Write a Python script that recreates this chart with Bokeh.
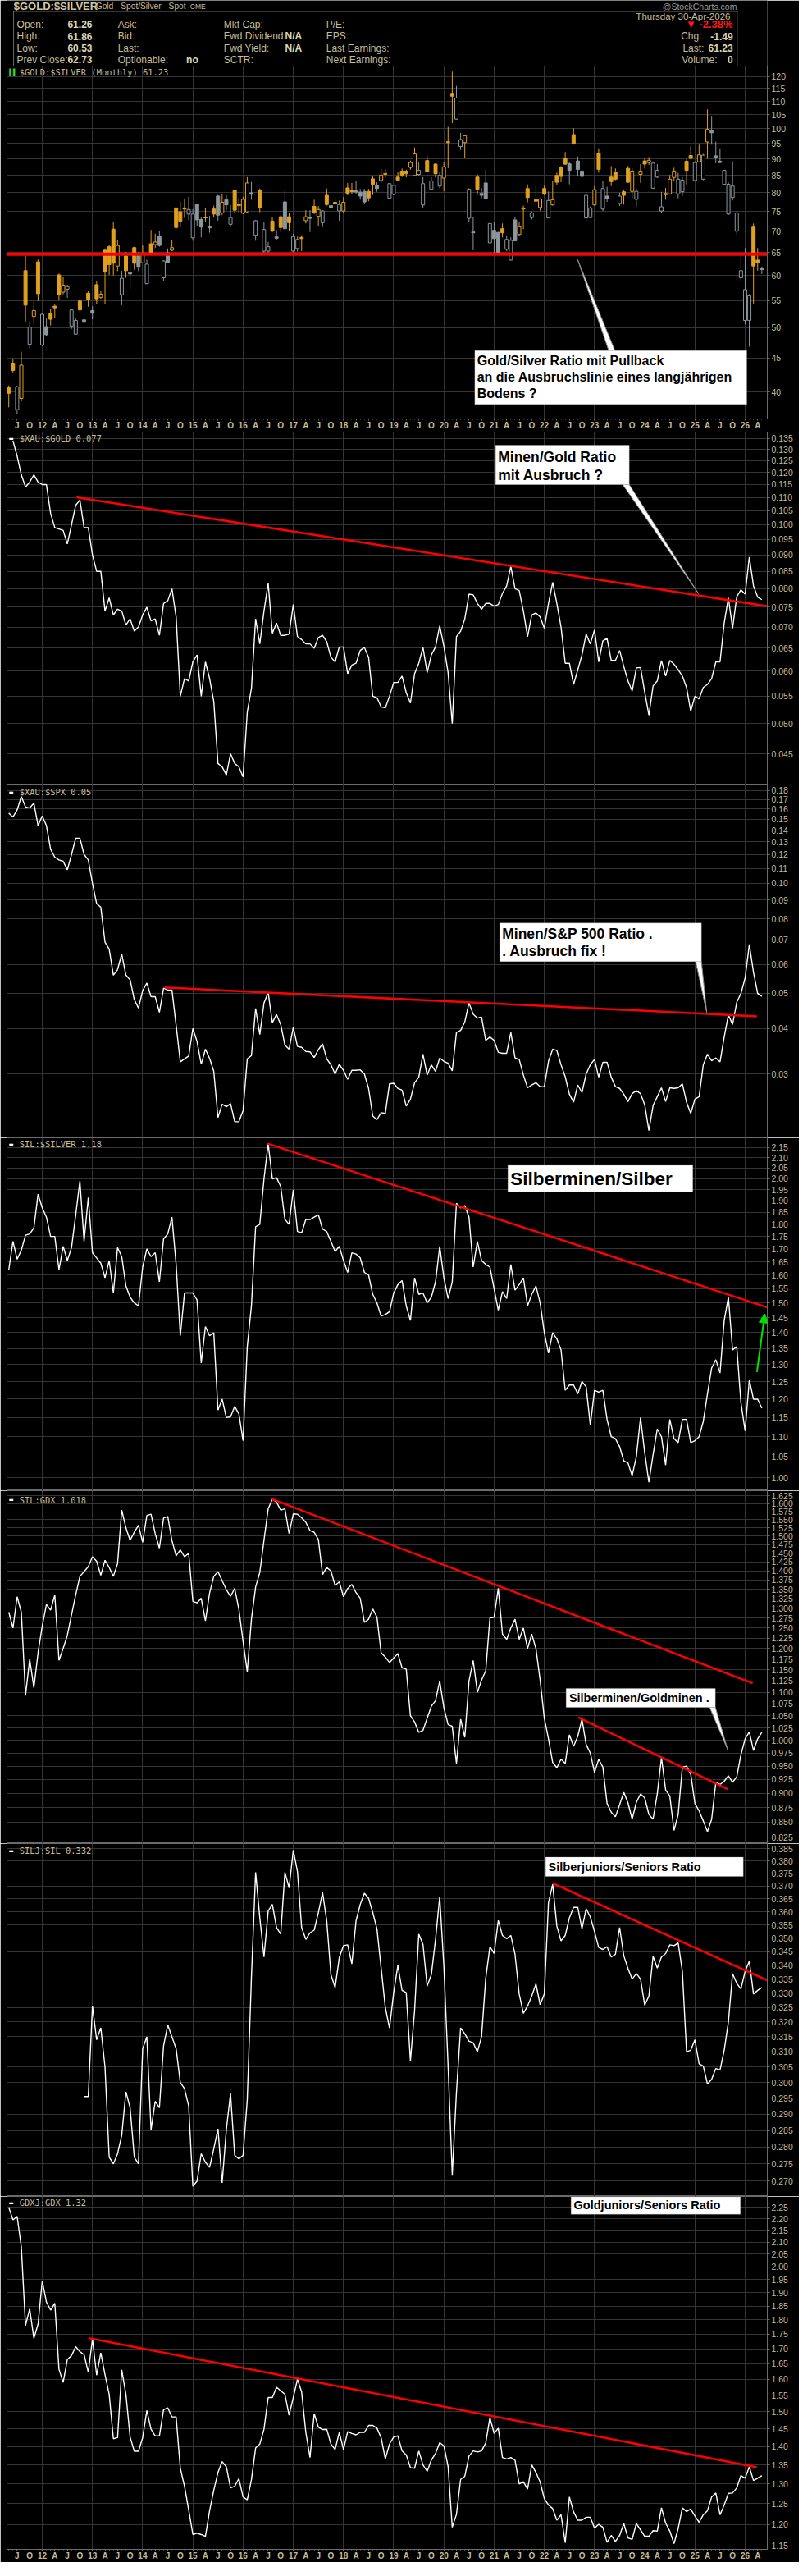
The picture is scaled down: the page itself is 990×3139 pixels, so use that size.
import numpy as np
import pandas as pd
from bokeh.plotting import figure
from bokeh.layouts import column
from bokeh.models import (Range1d, FixedTicker, PrintfTickFormatter, Label, BoxAnnotation,
                          Arrow, NormalHead, Grid, ColumnDataSource, Span)
from bokeh.embed import file_html
from bokeh.resources import INLINE

# ============================ DATA ============================
bar_months = pd.period_range("2011-04", "2026-04", freq="M")   # monthly bars

gs_open = [40.6, 44.2, 37.6, 39.1, 61.0, 47.2, 52.0, 62.9, 47.1, 50.2,
           52.5, 53.9, 60.1, 56.6, 57.2, 50.3, 48.9, 54.9, 51.4, 56.4,
           53.1, 58.1, 55.6, 65.5, 66.3, 70.5, 62.0, 56.1, 64.2, 60.6,
           66.1, 64.3, 62.7, 58.3, 67.0, 66.8, 68.7, 59.5, 64.9, 65.5,
           75.9, 74.9, 75.9, 74.3, 68.4, 76.9, 72.9, 73.5, 71.1, 75.6,
           79.1, 74.6, 78.1, 71.7, 80.7, 76.8, 74.5, 74.9, 80.0, 69.0,
           80.6, 65.3, 65.3, 72.5, 68.6, 73.6, 77.5, 73.6, 65.3, 65.9,
           68.5, 72.6, 73.3, 76.3, 73.7, 72.1, 79.3, 76.5, 77.4, 75.1,
           75.1, 81.4, 80.7, 80.6, 80.2, 80.4, 80.4, 84.0, 82.2, 83.5,
           85.3, 78.5, 79.6, 84.5, 86.3, 86.3, 87.4, 85.0, 85.3, 76.7,
           89.5, 81.0, 88.4, 81.9, 84.2, 95.6, 113.1, 103.4, 94.0, 95.3,
           73.2, 69.8, 84.5, 79.8, 82.8, 67.2, 70.2, 69.7, 70.6, 65.7,
           63.3, 72.8, 69.2, 75.9, 81.2, 73.4, 78.1, 76.0, 81.2, 73.3,
           76.7, 85.0, 87.4, 90.2, 88.5, 98.0, 89.4, 86.3, 73.3, 73.4,
           76.7, 91.8, 75.6, 79.1, 84.5, 85.9, 77.1, 80.3, 87.1, 80.4,
           78.2, 85.3, 89.4, 88.9, 81.3, 84.5, 75.1, 79.8, 79.7, 84.4,
           79.7, 80.3, 89.3, 91.1, 83.5, 89.1, 83.9, 95.5, 99.3, 91.0,
           89.3, 82.4, 74.3, 78.7, 70.0, 59.5, 51.3, 51.3, 71.0, 63.3,
           61.4]
gs_high = [40.9, 44.9, 40.9, 46.0, 64.2, 51.1, 54.9, 63.4, 52.6, 51.6,
           53.4, 54.2, 60.4, 59.6, 58.1, 53.3, 51.7, 55.6, 52.3, 56.8,
           53.9, 58.9, 56.9, 65.9, 66.8, 72.3, 67.8, 61.0, 65.1, 62.3,
           66.3, 65.1, 66.6, 63.4, 70.3, 69.4, 70.1, 63.2, 65.9, 67.8,
           76.0, 77.5, 78.3, 78.9, 75.6, 77.1, 73.6, 75.9, 73.8, 76.5,
           79.4, 79.8, 79.4, 76.7, 80.9, 78.5, 78.9, 84.5, 83.1, 72.7,
           81.2, 72.3, 67.4, 73.4, 70.3, 74.0, 80.9, 74.5, 69.4, 68.7,
           69.0, 75.3, 75.3, 78.1, 76.4, 75.3, 81.2, 78.1, 78.9, 77.9,
           78.8, 82.8, 82.8, 83.5, 81.1, 81.1, 81.1, 84.9, 83.0, 87.1,
           86.8, 82.7, 82.2, 85.9, 87.1, 86.7, 89.5, 93.7, 88.9, 84.5,
           91.1, 84.5, 88.7, 85.9, 89.1, 100.7, 122.0, 116.1, 98.6, 97.8,
           81.3, 73.5, 85.3, 81.3, 86.7, 72.0, 72.3, 69.8, 71.9, 69.0,
           68.5, 73.4, 72.2, 76.5, 82.4, 75.0, 82.2, 78.5, 82.0, 80.4,
           83.3, 85.8, 87.8, 92.2, 89.1, 100.2, 90.8, 86.5, 80.3, 76.2,
           81.9, 93.4, 83.5, 81.7, 87.8, 87.1, 80.0, 80.9, 87.8, 87.1,
           81.2, 88.4, 90.3, 90.6, 89.0, 88.4, 80.3, 81.4, 85.1, 87.3,
           85.8, 84.5, 89.9, 94.1, 89.3, 94.6, 91.6, 107.0, 104.6, 95.6,
           93.4, 86.7, 83.0, 89.3, 75.0, 64.4, 66.0, 56.2, 71.9, 66.0,
           61.9]
gs_low = [37.9, 42.8, 37.0, 38.7, 51.1, 46.5, 50.5, 54.9, 46.9, 48.6,
          50.4, 51.7, 55.1, 56.2, 55.5, 49.8, 48.8, 52.6, 49.8, 53.8,
          51.5, 54.3, 55.3, 54.3, 60.1, 60.0, 60.9, 54.1, 59.5, 57.2,
          61.2, 60.9, 62.6, 58.2, 64.7, 66.0, 66.3, 58.9, 62.6, 65.3,
          70.6, 70.9, 73.3, 72.7, 67.7, 71.2, 68.5, 72.3, 69.6, 73.6,
          72.6, 74.0, 75.3, 71.0, 74.5, 74.5, 74.3, 74.6, 78.1, 67.7,
          74.8, 64.8, 64.9, 69.8, 67.8, 69.8, 70.5, 70.0, 65.0, 65.2,
          65.3, 71.9, 69.8, 74.3, 71.2, 71.0, 76.5, 75.3, 76.8, 72.6,
          74.6, 79.3, 79.6, 79.6, 78.1, 76.9, 77.7, 79.4, 80.3, 83.0,
          84.3, 78.3, 79.3, 83.4, 84.5, 84.4, 86.7, 84.7, 84.7, 76.0,
          85.8, 80.7, 84.4, 81.2, 80.4, 87.2, 102.0, 103.2, 92.9, 90.2,
          72.2, 65.5, 79.4, 78.5, 78.1, 67.0, 64.9, 64.5, 68.5, 65.3,
          63.2, 67.5, 68.9, 70.5, 77.4, 72.9, 77.5, 75.2, 79.3, 73.2,
          76.5, 82.2, 83.0, 88.2, 82.4, 94.6, 84.8, 84.2, 72.6, 73.2,
          76.5, 85.8, 75.1, 77.5, 81.9, 83.6, 76.4, 76.8, 82.8, 78.5,
          76.2, 82.8, 87.1, 88.2, 81.1, 84.2, 74.6, 78.1, 79.5, 83.2,
          78.5, 79.1, 82.4, 89.9, 83.2, 88.9, 83.6, 90.1, 94.6, 88.7,
          88.7, 82.2, 74.1, 77.9, 69.2, 58.9, 50.6, 46.8, 54.4, 61.0,
          60.3]
gs_close = [39.8, 43.1, 40.7, 43.9, 54.1, 50.1, 53.1, 56.3, 52.4, 48.8,
            51.5, 53.6, 56.2, 58.0, 57.7, 53.2, 51.3, 53.2, 51.1, 55.1,
            52.6, 55.3, 56.2, 60.7, 62.3, 62.6, 66.6, 59.4, 61.0, 60.3,
            62.6, 61.9, 64.7, 62.4, 64.8, 67.4, 66.6, 63.1, 62.7, 66.1,
            70.9, 72.5, 75.6, 75.5, 74.3, 72.8, 71.0, 73.3, 70.8, 74.3,
            74.0, 77.4, 76.7, 73.4, 75.3, 76.5, 78.2, 82.8, 79.6, 72.6,
            75.9, 70.4, 66.3, 70.0, 68.3, 70.9, 70.6, 72.1, 68.7, 68.0,
            68.2, 73.6, 73.2, 74.6, 75.5, 75.1, 76.8, 76.0, 77.0, 76.8,
            77.4, 79.9, 80.3, 80.2, 79.1, 77.5, 78.6, 82.4, 81.2, 85.1,
            85.6, 82.6, 82.1, 83.6, 85.1, 85.5, 88.9, 91.6, 86.5, 82.6,
            86.1, 83.4, 85.5, 85.0, 87.6, 95.3, 112.0, 111.3, 96.3, 97.6,
            81.0, 69.6, 81.0, 79.3, 78.3, 71.9, 68.2, 64.8, 69.6, 68.0,
            67.8, 67.7, 71.1, 75.6, 78.7, 74.6, 77.7, 78.3, 79.7, 77.9,
            78.1, 83.0, 84.7, 88.4, 86.5, 94.9, 86.8, 84.7, 79.3, 75.9,
            80.9, 86.8, 81.2, 78.3, 83.2, 83.9, 79.1, 79.3, 83.0, 86.3,
            80.4, 86.3, 88.4, 89.6, 88.7, 86.5, 76.2, 79.5, 83.9, 86.3,
            83.9, 83.6, 86.5, 90.2, 88.9, 91.3, 91.2, 99.8, 98.6, 90.6,
            88.9, 86.5, 82.4, 81.9, 74.6, 61.0, 57.1, 55.9, 62.0, 62.73,
            61.23]
gs_support = 64.6

xau_gold_start = "2011-05"
xau_gold = [0.134, 0.127, 0.119, 0.114, 0.116, 0.119, 0.116, 0.115, 0.115, 0.104,
            0.099, 0.0985, 0.098, 0.0935, 0.100, 0.107, 0.109, 0.099, 0.099, 0.090,
            0.085, 0.085, 0.074, 0.0775, 0.073, 0.0745, 0.074, 0.0705, 0.072, 0.069,
            0.070, 0.073, 0.075, 0.0715, 0.072, 0.068, 0.076, 0.0767, 0.080, 0.0725,
            0.055, 0.0585, 0.058, 0.062, 0.0635, 0.055, 0.062, 0.0585, 0.054, 0.0435,
            0.043, 0.0418, 0.045, 0.0435, 0.043, 0.0415, 0.052, 0.0565, 0.072, 0.066,
            0.074, 0.0815, 0.0685, 0.071, 0.068, 0.068, 0.0683, 0.0757, 0.0677, 0.067,
            0.066, 0.066, 0.065, 0.0675, 0.068, 0.0665, 0.063, 0.062, 0.0653, 0.0653,
            0.0595, 0.0613, 0.0617, 0.0645, 0.0652, 0.063, 0.055, 0.0547, 0.053, 0.0528,
            0.055, 0.0577, 0.0577, 0.059, 0.0557, 0.0537, 0.0595, 0.0617, 0.0652, 0.0597,
            0.0635, 0.0653, 0.0703, 0.0655, 0.0597, 0.050, 0.0677, 0.069, 0.072, 0.0785,
            0.0783, 0.076, 0.0745, 0.076, 0.076, 0.0753, 0.0757, 0.0787, 0.0808, 0.0865,
            0.080, 0.0795, 0.074, 0.0677, 0.073, 0.0735, 0.0725, 0.0697, 0.076, 0.0818,
            0.076, 0.070, 0.0617, 0.0617, 0.0573, 0.0603, 0.0635, 0.0683, 0.066, 0.0693,
            0.062, 0.0667, 0.0673, 0.0623, 0.0623, 0.0645, 0.061, 0.058, 0.056, 0.0607,
            0.0608, 0.0558, 0.0515, 0.057, 0.058, 0.0623, 0.059, 0.0623, 0.0615, 0.0603,
            0.059, 0.0567, 0.0522, 0.055, 0.0545, 0.0567, 0.0573, 0.0585, 0.062, 0.062,
            0.071, 0.0775, 0.0697, 0.0778, 0.0797, 0.0785, 0.0893, 0.0808, 0.0777, 0.077]

xau_spx_start = "2011-04"
xau_spx = [0.156, 0.152, 0.159, 0.173, 0.162, 0.161, 0.166, 0.144, 0.153, 0.144,
           0.124, 0.118, 0.116, 0.115, 0.109, 0.120, 0.133, 0.133, 0.120, 0.116,
           0.100, 0.088, 0.086, 0.069, 0.066, 0.056, 0.058, 0.064, 0.056, 0.0544,
           0.048, 0.0455, 0.0508, 0.0533, 0.0489, 0.0489, 0.0443, 0.0516, 0.051, 0.051,
           0.0408, 0.0324, 0.033, 0.0336, 0.040, 0.0368, 0.0319, 0.0351, 0.0331, 0.0305,
           0.0228, 0.0248, 0.0244, 0.0249, 0.0222, 0.0222, 0.0238, 0.033, 0.0337, 0.0454,
           0.0385, 0.047, 0.0502, 0.0415, 0.0437, 0.041, 0.036, 0.0351, 0.0403, 0.0357,
           0.0355, 0.0346, 0.0345, 0.0333, 0.035, 0.0363, 0.033, 0.0318, 0.030, 0.0319,
           0.0307, 0.029, 0.0307, 0.0307, 0.0308, 0.030, 0.0274, 0.023, 0.0225, 0.0235,
           0.0234, 0.0282, 0.0283, 0.0274, 0.0271, 0.0245, 0.0256, 0.0284, 0.0294, 0.034,
           0.0298, 0.0318, 0.0305, 0.0332, 0.0325, 0.0321, 0.0306, 0.039, 0.0395, 0.0417,
           0.047, 0.0438, 0.0427, 0.043, 0.0371, 0.0379, 0.0371, 0.0344, 0.0342, 0.0342,
           0.039, 0.0332, 0.0329, 0.0298, 0.0275, 0.028, 0.0284, 0.0277, 0.0277, 0.0325,
           0.0351, 0.0348, 0.0318, 0.0295, 0.0264, 0.0251, 0.028, 0.0267, 0.030, 0.0318,
           0.0329, 0.0294, 0.0323, 0.0323, 0.0294, 0.0277, 0.0274, 0.0264, 0.0252, 0.0265,
           0.027, 0.0265, 0.0247, 0.021, 0.0246, 0.026, 0.0275, 0.0252, 0.0275, 0.0274,
           0.0275, 0.0282, 0.0251, 0.0234, 0.0256, 0.026, 0.0318, 0.034, 0.0326, 0.0332,
           0.0324, 0.0379, 0.0436, 0.041, 0.0472, 0.0499, 0.055, 0.068, 0.057, 0.0499,
           0.049]

sil_silver_start = "2011-04"
sil_silver = [1.62, 1.73, 1.66, 1.695, 1.755, 1.76, 1.785, 1.93, 1.87, 1.83,
              1.75, 1.75, 1.62, 1.71, 1.655, 1.705, 1.84, 1.99, 1.73, 1.915,
              1.685, 1.665, 1.645, 1.59, 1.655, 1.535, 1.705, 1.67, 1.56, 1.52,
              1.50, 1.49, 1.63, 1.70, 1.67, 1.685, 1.575, 1.74, 1.76, 1.83,
              1.64, 1.39, 1.535, 1.535, 1.535, 1.51, 1.305, 1.42, 1.39, 1.40,
              1.17, 1.20, 1.15, 1.152, 1.18, 1.16, 1.09, 1.355, 1.49, 1.79,
              1.80, 2.0, 2.17, 2.0, 2.005, 1.965, 1.82, 1.80, 1.95, 1.77,
              1.765, 1.82, 1.82, 1.83, 1.84, 1.78, 1.77, 1.73, 1.69, 1.71,
              1.655, 1.61, 1.685, 1.68, 1.665, 1.61, 1.60, 1.53, 1.50, 1.455,
              1.46, 1.47, 1.535, 1.565, 1.58, 1.49, 1.44, 1.59, 1.53, 1.535,
              1.50, 1.52, 1.575, 1.71, 1.59, 1.515, 1.575, 1.89, 1.87, 1.88,
              1.83, 1.63, 1.73, 1.655, 1.64, 1.63, 1.55, 1.475, 1.54, 1.515,
              1.64, 1.545, 1.565, 1.59, 1.49, 1.53, 1.56, 1.50, 1.40, 1.335,
              1.40, 1.38, 1.345, 1.225, 1.24, 1.24, 1.215, 1.25, 1.235, 1.13,
              1.225, 1.22, 1.225, 1.145, 1.10, 1.095, 1.075, 1.04, 1.035, 1.005,
              1.05, 1.15, 1.06, 0.99, 1.055, 1.12, 1.10, 1.03, 1.145, 1.095,
              1.085, 1.145, 1.145, 1.085, 1.09, 1.10, 1.14, 1.215, 1.29, 1.315,
              1.275, 1.44, 1.52, 1.345, 1.355, 1.19, 1.115, 1.255, 1.20, 1.20,
              1.175]

sil_gdx_start = "2011-04"
sil_gdx = [1.29, 1.25, 1.33, 1.29, 1.093, 1.175, 1.11, 1.19, 1.255, 1.31,
           1.295, 1.335, 1.172, 1.20, 1.232, 1.283, 1.335, 1.385, 1.398, 1.412,
           1.44, 1.427, 1.388, 1.43, 1.41, 1.385, 1.42, 1.58, 1.525, 1.488,
           1.512, 1.533, 1.482, 1.563, 1.567, 1.508, 1.465, 1.555, 1.56, 1.487,
           1.443, 1.46, 1.44, 1.45, 1.318, 1.314, 1.326, 1.268, 1.34, 1.385,
           1.398, 1.373, 1.349, 1.331, 1.352, 1.297, 1.217, 1.146, 1.272, 1.356,
           1.396, 1.488, 1.584, 1.615, 1.605, 1.58, 1.584, 1.508, 1.568, 1.567,
           1.556, 1.542, 1.517, 1.512, 1.49, 1.39, 1.41, 1.40, 1.36, 1.37,
           1.33, 1.352, 1.363, 1.341, 1.326, 1.264, 1.272, 1.298, 1.277, 1.19,
           1.18, 1.167, 1.178, 1.188, 1.155, 1.152, 1.05, 1.037, 1.016, 1.02,
           1.045, 1.07, 1.082, 1.125, 1.067, 1.032, 1.028, 0.955, 1.043, 1.006,
           1.125, 1.172, 1.10, 1.127, 1.148, 1.275, 1.277, 1.353, 1.235, 1.222,
           1.25, 1.272, 1.222, 1.25, 1.20, 1.235, 1.20, 1.127, 1.045, 1.003,
           0.957, 0.947, 0.963, 0.955, 1.011, 0.988, 1.008, 1.043, 0.992, 0.975,
           0.938, 0.963, 0.948, 0.882, 0.867, 0.859, 0.88, 0.902, 0.883, 0.855,
           0.884, 0.899, 0.892, 0.863, 0.855, 0.899, 0.966, 0.906, 0.895, 0.836,
           0.863, 0.948, 0.95, 0.935, 0.882, 0.869, 0.852, 0.834, 0.855, 0.92,
           0.916, 0.922, 0.932, 0.92, 0.93, 0.972, 1.003, 1.017, 0.98, 1.003,
           1.016]

silj_sil_start = "2012-10"
silj_sil = [0.2955, 0.2955, 0.3255, 0.314, 0.318, 0.305, 0.277, 0.275, 0.278, 0.2835,
            0.297, 0.292, 0.277, 0.275, 0.311, 0.315, 0.2852, 0.294, 0.292, 0.312,
            0.319, 0.315, 0.311, 0.300, 0.298, 0.2925, 0.2685, 0.270, 0.278, 0.2755,
            0.274, 0.2795, 0.2855, 0.2695, 0.2852, 0.2965, 0.2775, 0.2765, 0.2775, 0.2945,
            0.3358, 0.3755, 0.3577, 0.343, 0.3603, 0.3628, 0.354, 0.3515, 0.3755, 0.3693,
            0.3845, 0.3758, 0.354, 0.3495, 0.352, 0.353, 0.3597, 0.3675, 0.3565, 0.3366,
            0.332, 0.3428, 0.3472, 0.3475, 0.3405, 0.3565, 0.3628, 0.3672, 0.3652, 0.3597,
            0.3535, 0.339, 0.325, 0.318, 0.3302, 0.340, 0.331, 0.3302, 0.307, 0.324,
            0.3515, 0.3477, 0.3325, 0.3366, 0.3495, 0.3658, 0.3395, 0.3056, 0.2718, 0.2968,
            0.318, 0.316, 0.3135, 0.313, 0.310, 0.315, 0.3353, 0.3468, 0.3443, 0.3567,
            0.351, 0.3498, 0.351, 0.344, 0.3297, 0.323, 0.3255, 0.329, 0.3333, 0.326,
            0.3297, 0.3635, 0.3707, 0.3545, 0.349, 0.351, 0.3577, 0.3617, 0.3617, 0.3535,
            0.3612, 0.358, 0.3525, 0.3465, 0.3458, 0.3468, 0.343, 0.344, 0.354, 0.3435,
            0.3388, 0.335, 0.337, 0.335, 0.3258, 0.329, 0.3433, 0.339, 0.343, 0.3443,
            0.3475, 0.3472, 0.3482, 0.3378, 0.310, 0.3105, 0.314, 0.306, 0.3053, 0.2995,
            0.301, 0.3045, 0.304, 0.3105, 0.320, 0.337, 0.3335, 0.3315, 0.3378, 0.3415,
            0.3297, 0.331, 0.332]

gdxj_gdx_start = "2011-04"
gdxj_gdx = [2.25, 2.195, 2.21, 2.08, 1.78, 1.84, 1.735, 1.785, 1.945, 1.865,
            1.835, 1.86, 1.632, 1.59, 1.664, 1.677, 1.707, 1.69, 1.68, 1.622,
            1.733, 1.613, 1.686, 1.615, 1.553, 1.422, 1.425, 1.63, 1.553, 1.427,
            1.387, 1.387, 1.425, 1.504, 1.449, 1.43, 1.43, 1.506, 1.512, 1.485,
            1.485, 1.341, 1.294, 1.235, 1.176, 1.179, 1.176, 1.172, 1.233, 1.284,
            1.33, 1.359, 1.345, 1.29, 1.294, 1.314, 1.267, 1.26, 1.311, 1.396,
            1.407, 1.449, 1.543, 1.543, 1.575, 1.564, 1.553, 1.49, 1.543, 1.60,
            1.56, 1.44, 1.37, 1.495, 1.455, 1.448, 1.449, 1.407, 1.392, 1.44,
            1.392, 1.442, 1.437, 1.433, 1.44, 1.44, 1.46, 1.46, 1.452, 1.425,
            1.366, 1.407, 1.427, 1.43, 1.388, 1.377, 1.343, 1.341, 1.388, 1.35,
            1.333, 1.363, 1.381, 1.411, 1.402, 1.346, 1.193, 1.224, 1.312, 1.32,
            1.374, 1.388, 1.385, 1.388, 1.41, 1.483, 1.437, 1.452, 1.37, 1.366,
            1.37, 1.363, 1.30, 1.306, 1.287, 1.35, 1.33, 1.305, 1.263, 1.247,
            1.238, 1.21, 1.223, 1.157, 1.267, 1.23, 1.21, 1.21, 1.217, 1.217,
            1.191, 1.20, 1.193, 1.158, 1.174, 1.16, 1.174, 1.202, 1.168, 1.165,
            1.202, 1.187, 1.172, 1.172, 1.185, 1.184, 1.24, 1.203, 1.184, 1.155,
            1.19, 1.24, 1.231, 1.237, 1.22, 1.205, 1.223, 1.233, 1.267, 1.277,
            1.223, 1.247, 1.276, 1.277, 1.29, 1.322, 1.315, 1.345, 1.309, 1.315,
            1.322]

# analyst trend lines: (bar positions, values)
trend_xau_gold = ([16.2, 183.9], [0.110, 0.0748])
trend_xau_spx = ([37.2, 178.8], [0.0518, 0.0432])
trend_sil_silver = ([61.9, 183.8], [2.17, 1.473])
trend_sil_gdx_a = ([62.9, 177.8], [1.615, 1.120])
trend_sil_gdx_b = ([136.1, 171.8], [1.0466, 0.9077])
trend_silj_sil = ([130.0, 185.9], [0.3711, 0.3315])
trend_gdxj_gdx = ([19.25, 178.8], [1.7355, 1.344])

# y axis tick labels
gs_ticks = [40, 45, 50, 55, 60, 65, 70, 75, 80, 85, 90, 95, 100, 105, 110, 115, 120]
xau_gold_ticks = [0.045, 0.050, 0.055, 0.060, 0.065, 0.070, 0.075, 0.080, 0.085, 0.090,
                  0.095, 0.100, 0.105, 0.110, 0.115, 0.120, 0.125, 0.130, 0.135]
xau_spx_ticks = [0.03, 0.04, 0.05, 0.06, 0.07, 0.08, 0.09, 0.10, 0.11, 0.12, 0.13,
                 0.14, 0.15, 0.16, 0.17, 0.18]
xau_spx_grid_extra = [0.022, 0.0255]
sil_silver_ticks = [1.00, 1.05, 1.10, 1.15, 1.20, 1.25, 1.30, 1.35, 1.40, 1.45, 1.50, 1.55,
                    1.60, 1.65, 1.70, 1.75, 1.80, 1.85, 1.90, 1.95, 2.00, 2.05, 2.10, 2.15]
sil_gdx_ticks = [0.825, 0.850, 0.875, 0.900, 0.925, 0.950, 0.975, 1.000, 1.025, 1.050,
                 1.075, 1.100, 1.125, 1.150, 1.175, 1.200, 1.225, 1.250, 1.275, 1.300,
                 1.325, 1.350, 1.375, 1.400, 1.425, 1.450, 1.475, 1.500, 1.525, 1.550,
                 1.575, 1.600, 1.625]
silj_sil_ticks = [0.270, 0.275, 0.280, 0.285, 0.290, 0.295, 0.300, 0.305, 0.310, 0.315,
                  0.320, 0.325, 0.330, 0.335, 0.340, 0.345, 0.350, 0.355, 0.360, 0.365,
                  0.370, 0.375, 0.380, 0.385]
gdxj_gdx_ticks = [1.15, 1.20, 1.25, 1.30, 1.35, 1.40, 1.45, 1.50, 1.55, 1.60, 1.65, 1.70,
                  1.75, 1.80, 1.85, 1.90, 1.95, 2.00, 2.05, 2.10, 2.15, 2.20, 2.25]
quarter_letters = {3: "A", 6: "J", 9: "O"}

# ============================ STYLE / LAYOUT ============================
BG = "#000000"
GRID = "#343434"
FRAME = "#6c6c6c"
TXT = "#c4bd98"
TXT_HI = "#dcd6b6"
ORANGE = "#e0a020"
GRAYC = "#8c989e"
RED = "#ff0000"
FS = "Liberation Sans"
FM = "DejaVu Sans Mono"

W = 974
FRAME_H = 430
AX_H = 16
HDR_H = 80
XR = Range1d(-0.43, 181.3)

# displayed value ranges of the log axes (bottom, top)
YR = {1: (36.4, 124.4), 2: (0.04037, 0.1381), 3: (0.02005, 0.1862), 4: (0.9706, 2.1995),
      5: (0.8145, 1.642), 6: (0.2656, 0.3872), 7: (1.142, 2.299)}
# reference pixel frame of every panel and its values there (for placing notes)
REF = {1: (90.7, 124.4, 521.7, 36.4), 2: (537, 0.1381, 967, 0.04037),
       3: (967, 0.185, 1398, 0.02005), 4: (1398, 2.1995, 1829, 0.9706),
       5: (1829, 1.632, 2260, 0.8189), 6: (2260, 0.3869, 2691, 0.2656),
       7: (2691, 2.299, 3122, 1.142)}


def xd(px):
    return (px - 18.5) / 5.101


def yd(k, py):
    t, vt, b, vb = REF[k]
    f = (py - t) / (b - t)
    return float(np.exp(np.log(vt) + f * (np.log(vb) - np.log(vt))))


def mpos(p):
    return bar_months.get_loc(pd.Period(p, "M"))


year_pos = [i for i, m in enumerate(bar_months) if m.month == 12]
q_pos = [i for i, m in enumerate(bar_months) if m.month in (3, 6, 9, 12)]
q_lab = {i: (f"{(bar_months[i].year + 1) % 100:02d}" if bar_months[i].month == 12
             else quarter_letters[bar_months[i].month]) for i in q_pos}
month_pos = list(range(len(bar_months)))


def panel(k, ticks, fmt, with_xaxis=False, grid_extra=()):
    h = FRAME_H + (AX_H if with_xaxis else 0)
    p = figure(width=W, height=h, x_range=XR, y_range=Range1d(*YR[k]), y_axis_type="log",
               y_axis_location="right", x_axis_type="linear" if with_xaxis else None,
               x_axis_location="below", output_backend="svg", toolbar_location=None,
               min_border_left=8, min_border_right=39, min_border_top=0,
               min_border_bottom=AX_H if with_xaxis else 0,
               background_fill_color=BG, border_fill_color=BG, outline_line_color=FRAME)
    ya = p.yaxis[0]
    ya.ticker = FixedTicker(ticks=list(ticks))
    ya.formatter = PrintfTickFormatter(format=fmt)
    ya.axis_line_color = FRAME
    ya.major_tick_line_color = FRAME
    ya.major_tick_out = 3
    ya.major_tick_in = 0
    ya.minor_tick_line_color = None
    ya.major_label_text_color = TXT
    ya.major_label_text_font = FS
    ya.major_label_text_font_size = "10.5px"
    ya.major_label_standoff = 2
    p.ygrid.ticker = FixedTicker(ticks=list(ticks) + list(grid_extra))
    p.ygrid.grid_line_color = GRID
    if with_xaxis:
        xa = p.xaxis[0]
        xa.ticker = FixedTicker(ticks=q_pos, minor_ticks=month_pos)
        xa.major_label_overrides = q_lab
        xa.axis_line_color = FRAME
        xa.major_tick_line_color = FRAME
        xa.major_tick_out = 2
        xa.major_tick_in = 0
        xa.minor_tick_line_color = FRAME
        xa.minor_tick_out = 1
        xa.minor_tick_in = 0
        xa.major_label_standoff = 0
        xa.major_label_text_color = TXT
        xa.major_label_text_font = FS
        xa.major_label_text_font_size = "10px"
        xa.major_label_text_font_style = "bold"
        p.xgrid.ticker = FixedTicker(ticks=year_pos)
        p.xgrid.grid_line_color = GRID
    else:
        p.add_layout(Grid(dimension=0, ticker=FixedTicker(ticks=year_pos), grid_line_color=GRID))
    return p


def title(p, k, text, icon="\u25ac", icon_color="#ffffff"):
    t = REF[k][0] + 7.7
    p.add_layout(Label(x=xd(19), y=yd(k, t), text=icon, text_color=icon_color,
                       text_font=FM, text_font_size="8px", text_baseline="middle"))
    p.add_layout(Label(x=xd(31.6), y=yd(k, t), text=text, text_color=TXT,
                       text_font=FM, text_font_size="10.4px", text_baseline="middle"))


def note_box(p, k, box, lines, x_text, y_lines, size):
    l, t, r, b = box
    p.add_layout(BoxAnnotation(left=xd(l), right=xd(r), top=yd(k, t), bottom=yd(k, b),
                               fill_color="white", fill_alpha=1.0, line_color="#a8a8a8",
                               line_width=1))
    for txt, yy in zip(lines, y_lines):
        p.add_layout(Label(x=xd(x_text), y=yd(k, yy), text=txt, text_color="black",
                           text_font=FS, text_font_style="bold", text_font_size=size,
                           text_baseline="middle"))


def wedge(p, k, pts):
    p.patch([xd(a) for a, _ in pts], [yd(k, b) for _, b in pts],
            fill_color="white", line_color="#8a8a8a", line_width=1)


def series_line(p, start, values):
    x = np.arange(mpos(start), mpos(start) + len(values))
    p.line(x, values, line_color="white", line_width=1.4)


def trend(p, tr):
    p.line(tr[0], tr[1], line_color=RED, line_width=2.5)


# ============================ HEADER ============================
hdr = figure(width=W, height=HDR_H, x_range=Range1d(0, W), y_range=Range1d(HDR_H, 0),
             x_axis_type=None, y_axis_type=None, output_backend="svg", toolbar_location=None,
             min_border_left=0, min_border_right=0, min_border_top=0, min_border_bottom=0,
             background_fill_color=BG, border_fill_color=BG, outline_line_color=None)
hdr.multi_line([[8.5, 8.5], [8.5, 935.5], [935.5, 935.5]], [[80, 13.5], [13.5, 13.5], [13.5, 80]],
               line_color=FRAME, line_width=1)

R1, R2, R3, R4 = 29.2, 43.5, 58.0, 72.0
hdr_items = [
    (8.7, 7.0, "$GOLD:$SILVER", "left", "13px", "bold", "#cfc8a4"),
    (113.7, 7.2, "Gold - Spot/Silver - Spot", "left", "10.2px", "normal", TXT),
    (234.7, 7.5, "CME", "left", "8.5px", "normal", TXT),
    (935, 7.0, "@StockCharts.com", "right", "10.5px", "normal", "#9a9a9a"),
    (930, 19.2, "Thursday  30-Apr-2026", "right", "11.5px", "normal", TXT),
    (930, R1, "\u25bc -2.38%", "right", "13px", "bold", "#ff1a1a"),
    (12.7, R1, "Open:", "left", "12px", "normal", TXT),
    (77.7, R1, "61.26", "left", "12px", "bold", TXT_HI),
    (142, R1, "Ask:", "left", "12px", "normal", TXT),
    (277.7, R1, "Mkt Cap:", "left", "12px", "normal", TXT),
    (409, R1, "P/E:", "left", "12px", "normal", TXT),
    (12.7, R2, "High:", "left", "12px", "normal", TXT),
    (77.7, R2, "61.86", "left", "12px", "bold", TXT_HI),
    (142, R2, "Bid:", "left", "12px", "normal", TXT),
    (277.7, R2, "Fwd Dividend:", "left", "12px", "normal", TXT),
    (356.3, R2, "N/A", "left", "12px", "bold", TXT_HI),
    (409, R2, "EPS:", "left", "12px", "normal", TXT),
    (890, R2, "Chg:", "right", "12px", "normal", TXT),
    (930, R2, "-1.49", "right", "12px", "bold", TXT_HI),
    (12.7, R3, "Low:", "left", "12px", "normal", TXT),
    (77.7, R3, "60.53", "left", "12px", "bold", TXT_HI),
    (142, R3, "Last:", "left", "12px", "normal", TXT),
    (277.7, R3, "Fwd Yield:", "left", "12px", "normal", TXT),
    (356.3, R3, "N/A", "left", "12px", "bold", TXT_HI),
    (409, R3, "Last Earnings:", "left", "12px", "normal", TXT),
    (893, R3, "Last:", "right", "12px", "normal", TXT),
    (930, R3, "61.23", "right", "12px", "bold", TXT_HI),
    (12.7, R4, "Prev Close:", "left", "12px", "normal", TXT),
    (77.7, R4, "62.73", "left", "12px", "bold", TXT_HI),
    (142, R4, "Optionable:", "left", "12px", "normal", TXT),
    (229.7, R4, "no", "left", "12px", "bold", TXT_HI),
    (277.7, R4, "SCTR:", "left", "12px", "normal", TXT),
    (409, R4, "Next Earnings:", "left", "12px", "normal", TXT),
    (910, R4, "Volume:", "right", "12px", "normal", TXT),
    (930, R4, "0", "right", "12px", "bold", TXT_HI),
]
for x, y, t, al, sz, st, colr in hdr_items:
    hdr.add_layout(Label(x=x, y=y, text=t, text_align=al, text_baseline="middle",
                         text_font=FS, text_font_size=sz, text_font_style=st, text_color=colr))

# ============================ PANEL 1: candles ============================
p1 = panel(1, gs_ticks, "%d", with_xaxis=True)
o = np.array(gs_open)
c = np.array(gs_close)
prev = np.concatenate([[-np.inf], c[:-1]])
colr = np.where(c > prev, ORANGE, GRAYC)
fill = np.where(c > o, BG, colr)
src = ColumnDataSource(dict(x=np.arange(len(bar_months)), o=o, c=c, h=np.array(gs_high),
                            l=np.array(gs_low), top=np.maximum(o, c), bot=np.minimum(o, c),
                            col=colr, fill=fill))
p1.segment(x0="x", y0="h", x1="x", y1="l", line_color="col", line_width=1, source=src)
p1.vbar(x="x", width=0.78, top="top", bottom="bot", fill_color="fill", line_color="col",
        line_width=1, source=src)
p1.add_layout(Span(location=gs_support, dimension="width", line_color=RED, line_width=4))
title(p1, 1, "$GOLD:$SILVER (Monthly) 61.23", icon="\u258c\u258c", icon_color="#33cc33")
wedge(p1, 1, [(750, 438.3), (757.5, 438.3), (712, 327)])
note_box(p1, 1, (586.7, 438.3, 918.3, 504),
         ["Gold/Silver Ratio mit Pullback", "an die Ausbruchslinie eines langjährigen", "Bodens ?"],
         589.5, [451, 471, 491], "16px")

# ============================ PANEL 2 ============================
p2 = panel(2, xau_gold_ticks, "%.3f")
series_line(p2, xau_gold_start, xau_gold)
trend(p2, trend_xau_gold)
title(p2, 2, "$XAU:$GOLD 0.077")
wedge(p2, 2, [(767, 601), (775, 601), (859.5, 734)])
note_box(p2, 2, (612, 553, 775, 601), ["Minen/Gold Ratio", "mit Ausbruch ?"], 615,
         [567.3, 589.3], "17.5px")

# ============================ PANEL 3 ============================
p3 = panel(3, xau_spx_ticks, "%.2f", grid_extra=xau_spx_grid_extra)
series_line(p3, xau_spx_start, xau_spx)
trend(p3, trend_xau_spx)
title(p3, 3, "$XAU:$SPX 0.05")
wedge(p3, 3, [(856, 1182), (863, 1182), (869.5, 1245)])
note_box(p3, 3, (617, 1135, 863, 1182), ["Minen/S&P 500 Ratio .", ". Ausbruch fix !"], 620,
         [1148.3, 1169.3], "17.5px")

# ============================ PANEL 4 ============================
p4 = panel(4, sil_silver_ticks, "%.2f")
series_line(p4, sil_silver_start, sil_silver)
trend(p4, trend_sil_silver)
title(p4, 4, "SIL:$SILVER 1.18")
note_box(p4, 4, (627, 1431.7, 852.5, 1464), ["Silberminen/Silber"], 630, [1448], "22.5px")
p4.add_layout(Arrow(end=NormalHead(size=11, fill_color="#00e000", line_color="#00e000"),
                    x_start=xd(930.7), y_start=yd(4, 1684), x_end=xd(940.2), y_end=yd(4, 1613),
                    line_color="#00e000", line_width=2))

# ============================ PANEL 5 ============================
p5 = panel(5, sil_gdx_ticks, "%.3f")
series_line(p5, sil_gdx_start, sil_gdx)
trend(p5, trend_sil_gdx_a)
trend(p5, trend_sil_gdx_b)
title(p5, 5, "SIL:GDX 1.018")
wedge(p5, 5, [(873, 2094.3), (880, 2094.3), (895, 2146.7)])
note_box(p5, 5, (698, 2070.7, 880, 2094.3), ["Silberminen/Goldminen ."], 701.7, [2082.5], "14.5px")

# ============================ PANEL 6 ============================
p6 = panel(6, silj_sil_ticks, "%.3f")
series_line(p6, silj_sil_start, silj_sil)
trend(p6, trend_silj_sil)
title(p6, 6, "SILJ:SIL 0.332")
note_box(p6, 6, (673, 2275.7, 914, 2299.3), ["Silberjuniors/Seniors Ratio"], 676.4, [2287.5], "14.5px")

# ============================ PANEL 7 ============================
p7 = panel(7, gdxj_gdx_ticks, "%.2f", with_xaxis=True)
series_line(p7, gdxj_gdx_start, gdxj_gdx)
trend(p7, trend_gdxj_gdx)
title(p7, 7, "GDXJ:GDX 1.32")
note_box(p7, 7, (704, 2691.5, 910.5, 2712.7), ["Goldjuniors/Seniors Ratio"], 707.4, [2701.5], "14.5px")

layout = column(hdr, p1, p2, p3, p4, p5, p6, p7, spacing=0)
open("out.html", "w").write(file_html(layout, INLINE, title="$GOLD:$SILVER"))
